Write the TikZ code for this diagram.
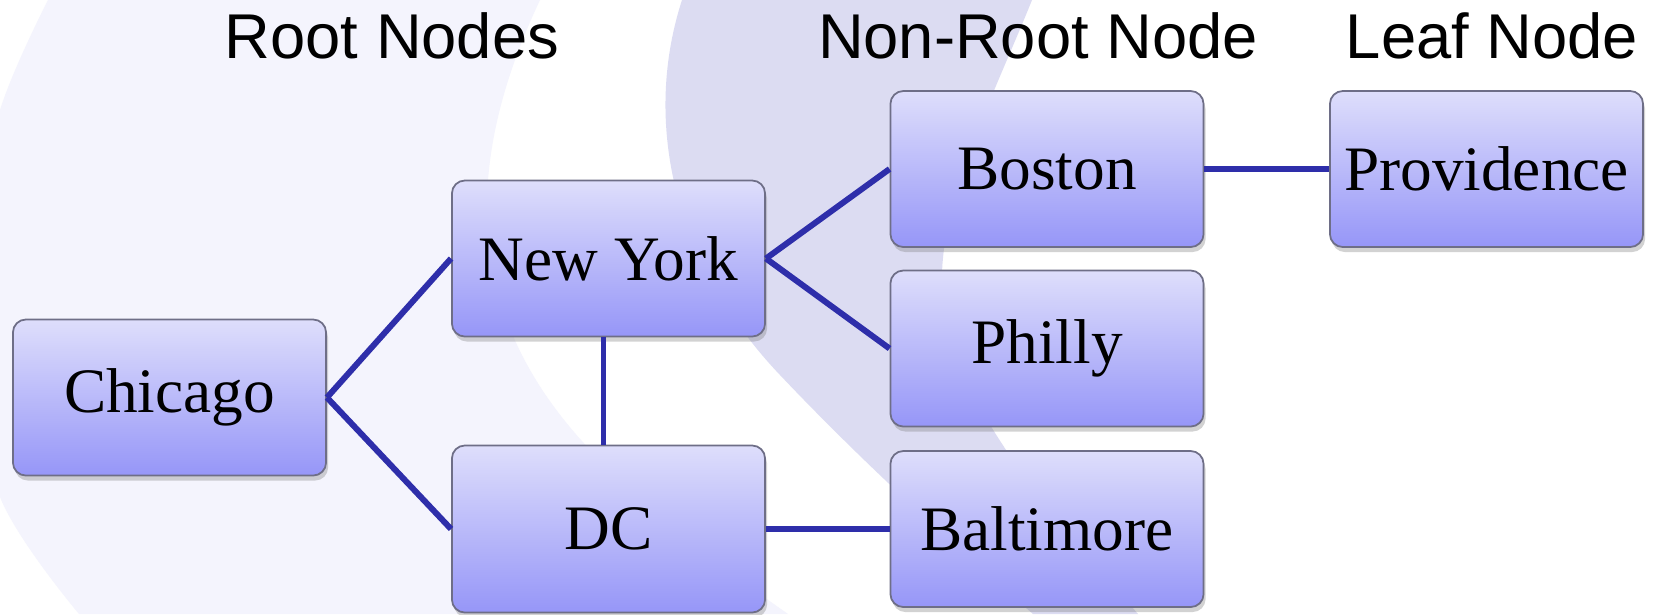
\documentclass[tikz,border=0pt]{standalone}
\usepackage{fontspec}
\setmainfont{Liberation Serif}
\newfontfamily\headfont{Liberation Sans}
\usetikzlibrary{shadows}
\definecolor{palebg}{RGB}{244,244,253}
\definecolor{darkbg}{RGB}{220,220,242}
\definecolor{boxtop}{RGB}{222,222,251}
\definecolor{boxbot}{RGB}{150,150,248}
\definecolor{boxline}{RGB}{110,110,135}
\definecolor{linkblue}{RGB}{46,46,170}

\begin{document}
\begin{tikzpicture}[x=0.01cm, y=-0.01cm,
    city/.style={rectangle, rounded corners=1.3mm, draw=boxline, line width=0.5pt,
        top color=boxtop, bottom color=boxbot, minimum width=31.3mm, minimum height=15.6mm,
        inner sep=0pt, font=\fontsize{18}{20}\selectfont,
        drop shadow={shadow xshift=0.2mm, shadow yshift=-0.5mm, opacity=0.35}},
    head/.style={anchor=base, font=\headfont\fontsize{18}{20}\selectfont},
    link/.style={draw=linkblue, line width=1.7pt}]
        %輸出區塊
        \useasboundingbox (0,0) rectangle (1659,614);
        \clip (0,0) rectangle (1659,614);
        
        %背景
        \fill[white] (0,0) rectangle (1659,614);
        \fill[palebg] (540,0) .. controls (455,180) and (470,330) .. (600,460)
            .. controls (680,540) and (740,580) .. (788,614)
            -- plot[smooth] coordinates {(79,614) (0,497) (-45,300) (0,110) (48,0)} -- cycle;
        \fill[darkbg] (682,0) .. controls (640,130) and (680,270) .. (780,375)
            .. controls (870,470) and (960,550) .. (1033,614) -- (1138,614)
            .. controls (1040,500) and (930,380) .. (943,258)
            .. controls (950,180) and (1000,80) .. (1032,0) -- cycle;
        
        \node[head] (roothead) at (392,58) {Root Nodes};
        \node[head] (nonroothead) at (1038,58) {Non-Root Node};
        \node[head] (leafhead) at (1492,58) {Leaf Node};
        
        \node[city] (chicago) at (169.5,397.5) {Chicago};
        \node[city] (ny) at (608.5,258.5) {New York};
        \node[city, minimum height=16.7mm] (dc) at (608.5,529) {DC};
        \node[city] (boston) at (1047,169) {Boston};
        \node[city] (philly) at (1047,348.5) {Philly};
        \node[city] (baltimore) at (1047,529) {Baltimore};
        \node[city] (providence) at (1486.5,169) {Providence};
        
        \foreach \a/\b in 
        {chicago/ny, chicago/dc, ny/boston, ny/philly, dc/baltimore, boston/providence}
        {
            \draw[link] (\a.east) -- (\b.west);
        };
        \draw[link] ([xshift=-0.5mm]ny.south) -- ([xshift=-0.5mm]dc.north);

    \end{tikzpicture}
\end{document}
